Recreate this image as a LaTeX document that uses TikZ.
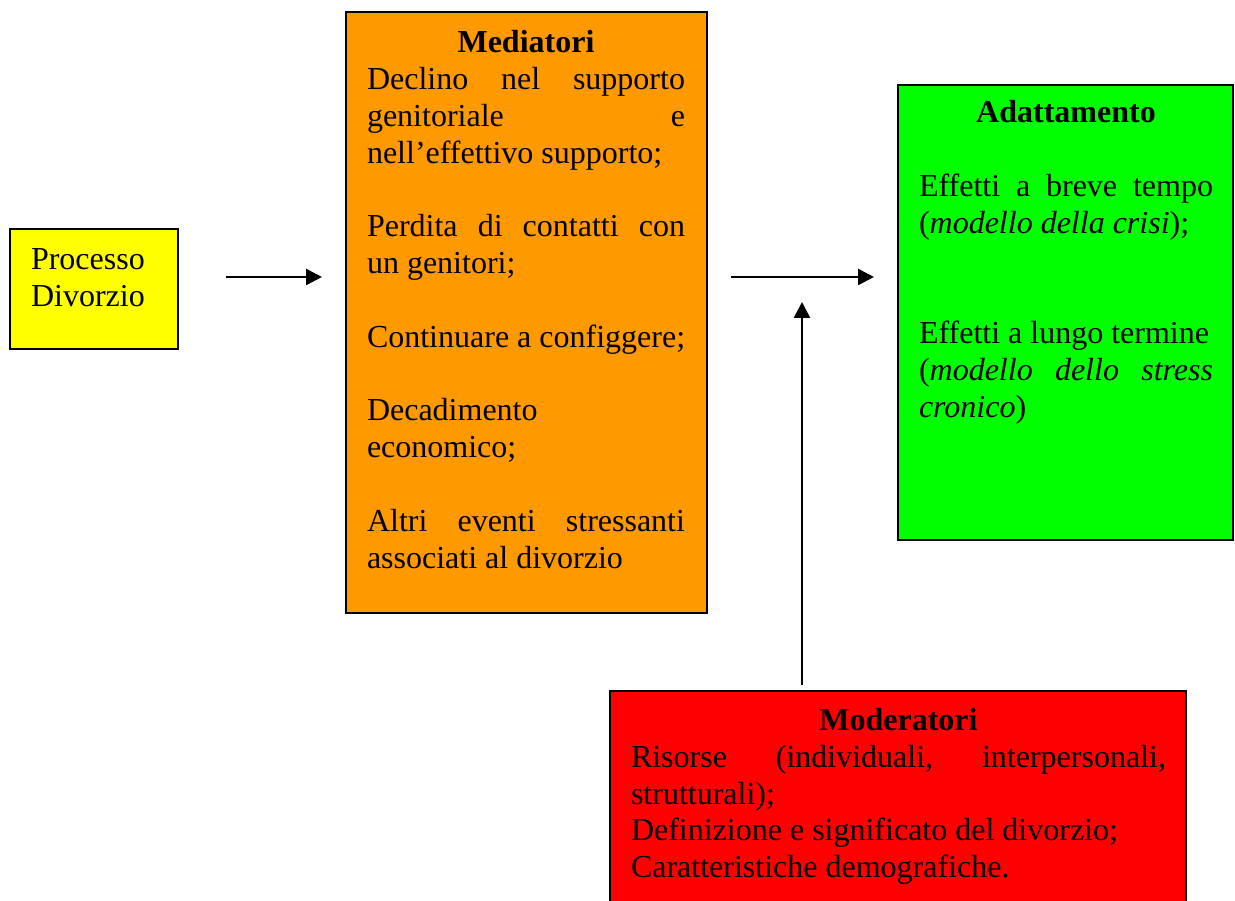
\documentclass[tikz,border=0pt]{standalone}
\usepackage{fontspec}
\setmainfont{Liberation Serif}[Ligatures={TeX,NoCommon}]
\usetikzlibrary{arrows.meta}

\definecolor{boxyellow}{HTML}{FFFF00}
\definecolor{boxorange}{HTML}{FF9900}
\definecolor{boxgreen}{HTML}{00FF00}
\definecolor{boxred}{HTML}{FF0000}

% a line set to the full column width (words separated by \hfill)
\newcommand{\fullline}[2]{\hbox to #1{#2}}
% a centred bold heading across the column
\newcommand{\headline}[2]{\hbox to #1{\hfil\bfseries #2\hfil}}

\tikzset{
  panel/.style={draw=black, line width=2pt, rectangle, inner sep=0pt,
                outer sep=0pt, anchor=north west},
  body/.style={anchor=north west, inner sep=0pt, outer sep=0pt, align=left,
               font=\fontsize{32}{36.8}\selectfont},
  arr/.style={line width=2.5pt, -{Triangle[length=16pt,width=16pt]}}
}

\begin{document}
\begin{tikzpicture}[x=1pt, y=-1pt]
  \useasboundingbox (0,0) rectangle (1235,901);
  \clip (0,0) rectangle (1235,901);
  \fill[white] (0,0) rectangle (1235,901);

  % boxes
  \node[panel, fill=boxyellow, minimum width=168pt, minimum height=120pt] (proc) at (10,229) {};
  \node[panel, fill=boxorange, minimum width=361pt, minimum height=601pt] (med) at (346,12) {};
  \node[panel, fill=boxgreen, minimum width=335pt, minimum height=455pt] (adapt) at (898,85) {};
  \node[panel, fill=boxred, minimum width=576pt, minimum height=240pt] (mod) at (610,691) {};

  % texts (first baseline sits 25.76pt below the node top)
  \node[body] (proctxt) at (31,243.7)
    {\strut Processo\\Divorzio};

  \node[body] (medtxt) at (367,27.2)
    {\strut\headline{318pt}{Mediatori}\\
     \fullline{318pt}{Declino\hfill nel\hfill supporto}\\
     \fullline{318pt}{genitoriale\hfill e}\\
     nell’effettivo supporto;\\[36.8pt]
     \fullline{318pt}{Perdita\hfill di\hfill contatti\hfill con}\\
     un genitori;\\[36.8pt]
     Continuare a configgere;\\[36.8pt]
     Decadimento\\
     economico;\\[36.8pt]
     \fullline{318pt}{Altri\hfill eventi\hfill stressanti}\\
     associati al divorzio};

  \node[body] (adapttxt) at (919,97.2)
    {\strut\headline{294pt}{Adattamento}\\[36.8pt]
     \fullline{294pt}{Effetti\hfill a\hfill breve\hfill tempo}\\
     (\textit{modello della crisi});\\[73.6pt]
     Effetti a lungo termine\\
     \fullline{294pt}{(\textit{modello}\hfill\textit{dello}\hfill\textit{stress}}\\
     \textit{cronico})};

  \node[body] (modtxt) at (631,704.7)
    {\strut\headline{535pt}{Moderatori}\\
     \fullline{535pt}{Risorse\hfill (individuali,\hfill interpersonali,}\\
     strutturali);\\
     Definizione e significato del divorzio;\\
     Caratteristiche demografiche.};

  % connectors
  \coordinate (row) at (0,277);
  \coordinate (joint) at (802,302);
  \draw[arr, shorten <=48pt, shorten >=24pt] (proc.east |- row) -- (med.west |- row);
  \draw[arr, shorten <=24pt, shorten >=24pt] (med.east |- row) -- (adapt.west |- row);
  \draw[arr, shorten <=6pt] (mod.north -| joint) -- (joint);
\end{tikzpicture}
\end{document}
